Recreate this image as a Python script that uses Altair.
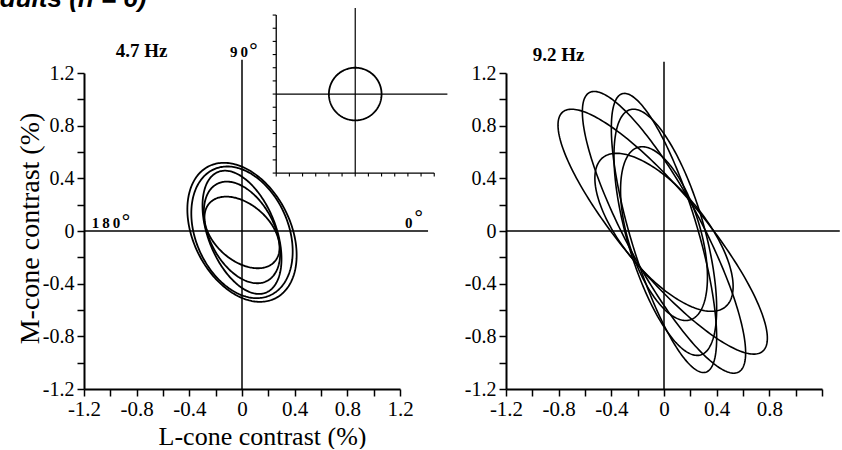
import json
import numpy as np
import pandas as pd
import altair as alt

# ---------------- data ----------------
tick_values = [-1.2, -1.0, -0.8, -0.6, -0.4, -0.2, 0.0, 0.2, 0.4, 0.6, 0.8, 1.0, 1.2]
labeled_full = [-1.2, -0.8, -0.4, 0.0, 0.4, 0.8, 1.2]
labeled_right_x = [-1.2, -0.8, -0.4, 0.0, 0.4, 0.8]

# 4.7 Hz: response ellipses (centre, L amplitude, M amplitude, cos of L-M phase)
left_cx = [0.0, 0.0, 0.0, 0.0, 0.0]
left_cy = [-0.01, -0.01, -0.01, -0.011, -0.011]
left_ax = [0.415, 0.385, 0.30, 0.29, 0.285]
left_ay = [0.528, 0.50, 0.468, 0.386, 0.272]
left_cos = [-0.33, -0.29, -0.43, -0.40, -0.42]

# 9.2 Hz
right_cx = [-0.01, 0.0, 0.0, 0.01, 0.0, 0.0]
right_cy = [-0.005, -0.01, -0.015, -0.01, -0.02, -0.01]
right_ax = [0.795, 0.62, 0.40, 0.39, 0.33, 0.525]
right_ay = [0.93, 1.07, 1.06, 0.935, 0.66, 0.60]
right_cos = [-0.87, -0.855, -0.75, -0.62, -0.50, -0.685]

# inset (stimulus): centre, half size, circle radius, tick step
inset_center = [0.86, 1.04]
inset_half = 0.6
inset_radius = 0.2
inset_step = 0.1

# ---------------- helpers ----------------
def ellipses(cx, cy, ax, ay, cphi, n=240):
    t = np.linspace(0, 2 * np.pi, n + 1)
    frames = []
    for i, (a, b, c, d, e) in enumerate(zip(cx, cy, ax, ay, cphi)):
        phi = np.arccos(e)
        frames.append(pd.DataFrame({
            "id": i, "k": np.arange(n + 1),
            "x": a + c * np.cos(t), "y": b + d * np.cos(t + phi)}))
    return pd.concat(frames, ignore_index=True)


def label_expr(vals):
    return ("indexof(%s, datum.value) >= 0 ? (datum.value == 0 ? '0' : "
            "(datum.value < 0 ? '-' : '') + format(abs(datum.value), '.1f')) : ''"
            % json.dumps(vals))


SC = alt.Scale(domain=[-1.2, 1.2], nice=False, zero=False)
SERIF = "Liberation Serif"

axis_style = dict(domainColor="black", domainWidth=2, tickColor="black", tickWidth=1.5,
                  tickSize=7, labelFont=SERIF, labelColor="black", labelFlush=False,
                  labelOverlap=False, grid=False, titleFont=SERIF,
                  titleFontWeight="normal", titleColor="black")

x_axis_left = alt.Axis(values=tick_values, labelExpr=label_expr(labeled_full),
                       title="L-cone contrast (%)", titleX=178, titleY=55,
                       titleBaseline="alphabetic", titleAlign="center", titleFontSize=26,
                       labelPadding=2, labelFontSize=21, **axis_style)
y_axis_left = alt.Axis(values=tick_values, labelExpr=label_expr(labeled_full),
                       title="M-cone contrast (%)", titleX=-46, titleY=155, titleAngle=270,
                       titleBaseline="alphabetic", titleAlign="center", titleFontSize=28,
                       labelPadding=3, labelFontSize=20, **axis_style)
x_axis_right = alt.Axis(values=tick_values, labelExpr=label_expr(labeled_right_x),
                        title=None, labelPadding=2, labelFontSize=21, **axis_style)
y_axis_right = alt.Axis(values=tick_values, labelExpr=label_expr(labeled_full),
                        title=None, labelPadding=3, labelFontSize=20, **axis_style)


def layers(ell, rules, notes, xa, ya, lw, extra=None):
    X = alt.X("x:Q", scale=SC, axis=xa)
    Y = alt.Y("y:Q", scale=SC, axis=ya)
    base = [
        alt.Chart(rules).mark_rule(color="black").encode(
            x=X, y=Y, x2="x2:Q", y2="y2:Q",
            strokeWidth=alt.StrokeWidth("w:Q", scale=None)),
        alt.Chart(ell).mark_line(color="black", strokeWidth=lw).encode(
            x=X, y=Y, detail="id:N", order="k:Q"),
        alt.Chart(notes).mark_text(font=SERIF, fontWeight="bold", color="black",
                                   align="center", baseline="alphabetic").encode(
            x=X, y=Y, text="text:N", size=alt.Size("fs:Q", scale=None)),
    ]
    if extra:
        for ch in extra:
            base.append(ch(X, Y))
    return alt.layer(*base).properties(width=316, height=316)


# ---------------- left panel ----------------
left_ell = ellipses(left_cx, left_cy, left_ax, left_ay, left_cos)
icx, icy = inset_center
inset_circle = ellipses([icx], [icy], [inset_radius], [inset_radius], [0.0])
left_ell = pd.concat([left_ell, inset_circle.assign(id=99)], ignore_index=True)

tk = 0.027
steps = np.arange(-inset_half, inset_half + 1e-9, inset_step)
rule_rows = [
    # main zero lines
    dict(x=-1.2, x2=1.413, y=0.0, y2=0.0, w=1.5),
    dict(x=0.0, x2=0.0, y=-1.2, y2=1.30, w=1.5),
    # inset axes
    dict(x=icx - inset_half, x2=icx - inset_half, y=icy - inset_half, y2=icy + inset_half, w=1.3),
    dict(x=icx - inset_half, x2=icx + inset_half, y=icy - inset_half, y2=icy - inset_half, w=1.3),
    # inset cross
    dict(x=icx - inset_half, x2=icx + 0.70, y=icy, y2=icy, w=1.2),
    dict(x=icx, x2=icx, y=icy - inset_half, y2=icy + 0.654, w=1.2),
]
for s in steps:
    rule_rows.append(dict(x=icx - inset_half - tk, x2=icx - inset_half, y=icy + s, y2=icy + s, w=1.1))
    rule_rows.append(dict(x=icx + s, x2=icx + s, y=icy - inset_half, y2=icy - inset_half - tk, w=1.1))
left_rules = pd.DataFrame(rule_rows)

left_notes = pd.DataFrame([
    dict(x=-0.763, y=1.32, text="4.7 Hz", fs=19),
    dict(x=-0.023, y=1.32, text="9\u20090", fs=15),
    dict(x=0.087, y=1.32, text="°", fs=21),
    dict(x=-1.033, y=0.023, text="1\u20098\u20090", fs=15),
    dict(x=-0.881, y=0.023, text="°", fs=21),
    dict(x=1.266, y=0.023, text="0", fs=15),
    dict(x=1.342, y=0.05, text="°", fs=21),
])

title_df = pd.DataFrame([dict(x=-1.982, y=1.70, text="Adults (n = 6)")])


def title_layer(X, Y):
    return alt.Chart(title_df).mark_text(font="Liberation Sans", fontWeight="bold",
                                         fontStyle="italic", fontSize=26, align="left",
                                         baseline="alphabetic", color="black").encode(
        x=X, y=Y, text="text:N")


left = layers(left_ell, left_rules, left_notes, x_axis_left, y_axis_left, 1.8,
              extra=[title_layer])

# ---------------- right panel ----------------
right_ell = ellipses(right_cx, right_cy, right_ax, right_ay, right_cos)
right_rules = pd.DataFrame([
    dict(x=-1.2, x2=1.335, y=0.0, y2=0.0, w=1.5),
    dict(x=0.0, x2=0.0, y=-1.2, y2=1.285, w=1.5),
])
right_notes = pd.DataFrame([dict(x=-0.80, y=1.29, text="9.2 Hz", fs=19)])
right = layers(right_ell, right_rules, right_notes, x_axis_right, y_axis_right, 1.6)

chart = alt.hconcat(left, right, spacing=106, bounds="flush").properties(
    padding={"left": -19, "top": -14, "right": 0, "bottom": 0}
).configure_view(stroke=None)

chart.save("out.html", embed_options={"renderer": "svg", "actions": False})
